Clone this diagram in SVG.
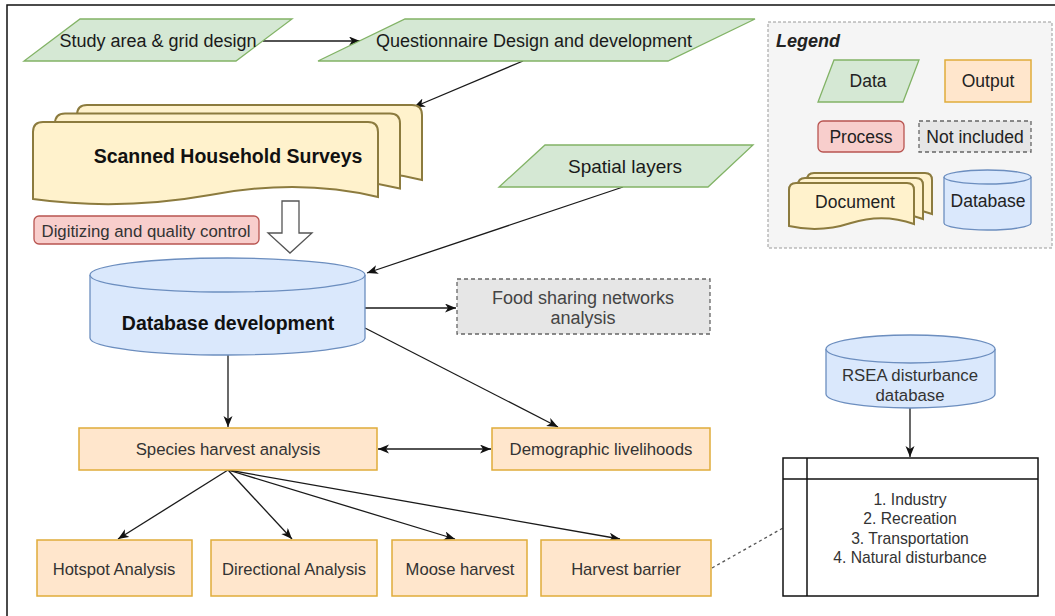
<svg xmlns="http://www.w3.org/2000/svg" width="1055" height="616" viewBox="0 0 1055 616">
<style>
text{font-family:"Liberation Sans",Arial,sans-serif;text-anchor:middle}
.data{fill:#d5e8d4;stroke:#82b366;stroke-width:1.3}
.out{fill:#ffe6cc;stroke:#e0ac3a;stroke-width:1.5}
.proc{fill:#f8cecc;stroke:#b85450;stroke-width:1.3}
.ni{fill:#e6e6e6;stroke:#666;stroke-width:1.3;stroke-dasharray:4 3}
.db{fill:#dae8fc;stroke:#6c8ebf;stroke-width:1.3}
.doc{fill:#fff2cc;stroke:#8c7b3e;stroke-width:2}
.edge{fill:none;stroke:#1a1a1a;stroke-width:1.3}
.t18{font-size:18px;fill:#1a1a1a}
.t17{font-size:16.8px;fill:#333}
.tb{font-size:19.5px;font-weight:bold;fill:#111}
.tl{font-size:17.5px;fill:#222}
</style>
<defs>
<marker id="ah" markerUnits="userSpaceOnUse" markerWidth="12" markerHeight="10" refX="11" refY="4.5" orient="auto-start-reverse">
<path d="M0,0 L11,4.5 L0,9 L3,4.5 Z" fill="#111"/>
</marker>
<path id="docS" d="M33,132 Q33,122 43,122 L368,122 Q378,122 378,132 L378,197 Q300,178 210,195 Q120,211 33,199 Z"/>
<path id="docL" d="M789,190 Q789,183 796,183 L907,183 Q914,183 914,190 L914,224 Q883,213 851,223 Q820,233 789,226 Z"/>
</defs>
<rect width="1055" height="616" fill="#fff"/>
<path d="M7,616 L7,5 L1055,5" fill="none" stroke="#111" stroke-width="1.5"/>

<g id="legend">
<rect x="768" y="22" width="284" height="226" fill="#f5f5f5" stroke="#999" stroke-width="1" stroke-dasharray="3 2"/>
<text x="776" y="47" style="text-anchor:start;font-size:18px;font-weight:bold;font-style:italic;fill:#222">Legend</text>
<polygon class="data" points="834,60 919,60 903,102 818,102"/>
<text class="tl" x="868" y="87">Data</text>
<rect class="out" x="945" y="60" width="86" height="42"/>
<text class="tl" x="988" y="87">Output</text>
<rect class="proc" x="818" y="121" width="86" height="31" rx="5"/>
<text class="tl" x="861" y="143">Process</text>
<rect class="ni" x="919" y="121" width="112" height="31"/>
<text class="tl" x="975" y="143">Not included</text>
<use href="#docL" class="doc" transform="translate(18,-10)"/>
<use href="#docL" class="doc" transform="translate(9,-5)"/>
<use href="#docL" class="doc"/>
<text class="tl" x="855" y="208">Document</text>
<path class="db" d="M944,177 A43.5,7 0 0 1 1031,177 L1031,223 A43.5,7 0 0 1 944,223 Z"/>
<path class="db" d="M944,177 A43.5,7 0 0 0 1031,177" fill="none"/>
<text class="tl" x="988" y="207">Database</text>
</g>

<g id="connectors">
<line class="edge" x1="263" y1="41" x2="360" y2="41" marker-end="url(#ah)"/>
<line class="edge" x1="523" y1="61" x2="414" y2="107" marker-end="url(#ah)"/>
<line class="edge" x1="623" y1="187" x2="367" y2="273" marker-end="url(#ah)"/>
<line class="edge" x1="365" y1="308" x2="456" y2="308" marker-end="url(#ah)"/>
<line class="edge" x1="365" y1="328" x2="558" y2="427" marker-end="url(#ah)"/>
<line class="edge" x1="228" y1="355" x2="228" y2="427" marker-end="url(#ah)"/>
<line class="edge" x1="378" y1="449" x2="491" y2="449" marker-start="url(#ah)" marker-end="url(#ah)"/>
<line class="edge" x1="228" y1="470" x2="118" y2="539" marker-end="url(#ah)"/>
<line class="edge" x1="228" y1="470" x2="292" y2="539" marker-end="url(#ah)"/>
<line class="edge" x1="228" y1="470" x2="455" y2="539" marker-end="url(#ah)"/>
<line class="edge" x1="228" y1="470" x2="620" y2="539" marker-end="url(#ah)"/>
<line class="edge" x1="910" y1="408" x2="910" y2="457" marker-end="url(#ah)"/>
<line x1="712" y1="568" x2="783" y2="528" stroke="#555" stroke-width="1.3" stroke-dasharray="3 3"/>
</g>

<g id="study">
<polygon class="data" points="80,19 292,19 236,61 24,61"/>
<text class="t18" x="158" y="47">Study area &amp; grid design</text>
</g>
<g id="questionnaire">
<polygon class="data" points="405,19 755,19 668,61 318,61"/>
<text class="t18" x="534" y="47">Questionnaire Design and development</text>
</g>
<g id="spatial">
<polygon class="data" points="545,145 753,145 708,187 499,187"/>
<text class="t18" x="625" y="173" style="font-size:19px">Spatial layers</text>
</g>
<g id="scanned">
<use href="#docS" class="doc" transform="translate(44,-17)"/>
<use href="#docS" class="doc" transform="translate(22,-8.5)"/>
<use href="#docS" class="doc"/>
<text class="tb" x="228" y="163">Scanned Household Surveys</text>
</g>
<g id="digitizing">
<rect class="proc" x="34" y="216" width="225" height="28" rx="5"/>
<text class="t17" x="146" y="237">Digitizing and quality control</text>
</g>
<g id="bigarrow">
<path d="M282,201 L299,201 L299,233 L312,233 L290,253 L268,233 L282,233 Z" fill="#fff" stroke="#555" stroke-width="1.3"/>
</g>
<g id="database">
<path class="db" d="M90,275 A137.5,17 0 0 1 365,275 L365,338 A137.5,17 0 0 1 90,338 Z"/>
<path class="db" d="M90,275 A137.5,17 0 0 0 365,275" fill="none"/>
<text class="tb" x="228" y="330">Database development</text>
</g>
<g id="food">
<rect class="ni" x="457" y="279" width="253" height="55"/>
<text class="t17" x="583" y="304" style="font-size:18px;fill:#444">Food sharing networks</text>
<text class="t17" x="583" y="324" style="font-size:18px;fill:#444">analysis</text>
</g>
<g id="species">
<rect class="out" x="79" y="428" width="298" height="42"/>
<text class="t17" x="228" y="455">Species harvest analysis</text>
</g>
<g id="demographic">
<rect class="out" x="492" y="428" width="218" height="42"/>
<text class="t17" x="601" y="455">Demographic livelihoods</text>
</g>
<g id="hotspot">
<rect class="out" x="37" y="540" width="155" height="56"/>
<text class="t17" x="114" y="575" style="font-size:16.6px">Hotspot Analysis</text>
</g>
<g id="directional">
<rect class="out" x="211" y="540" width="166" height="56"/>
<text class="t17" x="294" y="575" style="font-size:16.6px">Directional Analysis</text>
</g>
<g id="moose">
<rect class="out" x="392" y="540" width="135" height="56"/>
<text class="t17" x="460" y="575" style="font-size:16.6px">Moose harvest</text>
</g>
<g id="barrier">
<rect class="out" x="541" y="540" width="170" height="56"/>
<text class="t17" x="626" y="575" style="font-size:16.6px">Harvest barrier</text>
</g>
<g id="rsea">
<path class="db" d="M826,349 A84.5,14 0 0 1 995,349 L995,394 A84.5,14 0 0 1 826,394 Z"/>
<path class="db" d="M826,349 A84.5,14 0 0 0 995,349" fill="none"/>
<text class="t17" x="910" y="381">RSEA disturbance</text>
<text class="t17" x="910" y="401">database</text>
</g>
<g id="table">
<rect x="783" y="458" width="255" height="138" fill="#fff" stroke="#111" stroke-width="1.5"/>
<line x1="783" y1="479" x2="1038" y2="479" stroke="#111" stroke-width="1.5"/>
<line x1="807" y1="458" x2="807" y2="596" stroke="#111" stroke-width="1.5"/>
<text class="t17" x="910" y="505" style="font-size:15.7px">1. Industry</text>
<text class="t17" x="910" y="524" style="font-size:15.7px">2. Recreation</text>
<text class="t17" x="910" y="544" style="font-size:15.7px">3. Transportation</text>
<text class="t17" x="910" y="563" style="font-size:15.7px">4. Natural disturbance</text>
</g>
</svg>
